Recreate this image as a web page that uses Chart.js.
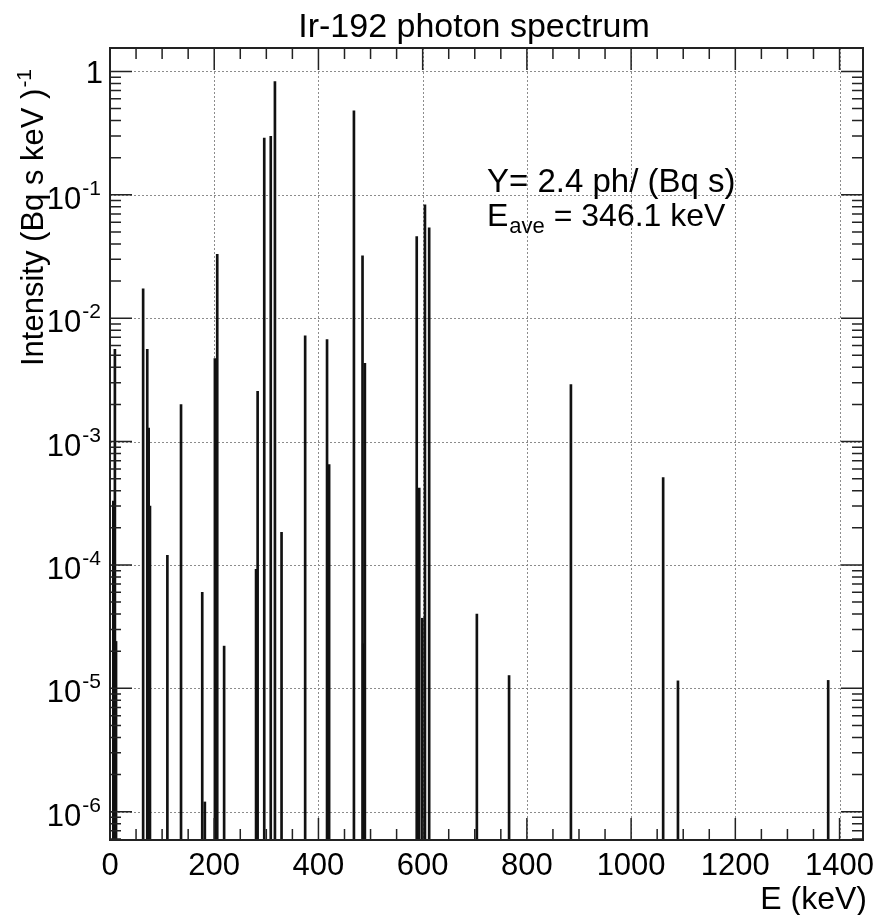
<!DOCTYPE html>
<html>
<head>
<meta charset="utf-8">
<title>Ir-192 photon spectrum</title>
<script src="https://cdn.jsdelivr.net/npm/chart.js@4.4.1/dist/chart.umd.min.js"></script>
<style>
  html, body { margin: 0; padding: 0; background: #fff; }
  canvas { display: block; }
</style>
</head>
<body>
<canvas id="spectrum" width="879" height="915"></canvas>
<script>
// --- DONNEES ---
const energies = [6.4, 9.4, 11.6, 63.6, 71.5, 74.2, 76.7, 110.1, 136.3, 177.0, 182.0, 201.3, 205.8, 219.0,
    280.3, 283.3, 296.0, 308.5, 316.5, 329.2, 374.5, 416.5, 420.5, 468.1, 484.6, 485.9, 489.1,
    588.6, 593.4, 599.4, 604.4, 612.5, 704.0, 765.8, 884.5, 1061.5, 1089.9, 1378.2];
const intensities = [3.3e-4, 5.6e-3, 2.4e-5, 0.0173, 5.6e-3, 1.29e-3, 3.0e-4, 1.2e-4, 2.0e-3, 6.0e-5, 1.2e-6, 4.7e-3, 0.033, 2.2e-5,
    9.2e-5, 2.56e-3, 0.289, 0.298, 0.83, 1.84e-4, 7.2e-3, 6.7e-3, 6.5e-4, 0.48, 0.032, 2.3e-5, 4.3e-3,
    0.046, 4.2e-4, 3.7e-5, 0.083, 0.054, 4.0e-5, 1.27e-5, 2.9e-3, 5.1e-4, 1.15e-5, 1.16e-5];
const xTicks = [0, 200, 400, 600, 800, 1000, 1200, 1400];
const yDecades = [0, -1, -2, -3, -4, -5, -6];

const chartTitle = "Ir-192 photon spectrum";
const xTitle = "E (keV)";
const yTitle = "Intensity (Bq s keV )";
const yTitleSup = "-1";
const yieldText = "Y= 2.4 ph/ (Bq s)";
const eaveText = " = 346.1 keV";

const FONT = '"Liberation Sans", Arial, Helvetica, sans-serif';
const X_MIN = 0, X_MAX = 1445, Y_MIN = 5.9e-7, Y_MAX = 1.55;

function font(px) { return px + 'px ' + FONT; }

// --- STYLE "ROOT" : grille, cadre, ticks, textes ---
const rootStyle = {
    id: 'rootStyle',
    beforeDatasetsDraw(chart) {
        const { ctx, chartArea: a, scales: { x, y } } = chart;
        ctx.save();
        ctx.strokeStyle = '#8c8c8c'; ctx.lineWidth = 1; ctx.setLineDash([2, 2]);
        ctx.beginPath();
        xTicks.forEach(v => {
            if (v <= X_MIN) return;
            const px = Math.round(x.getPixelForValue(v)) + 0.5;
            ctx.moveTo(px, a.top); ctx.lineTo(px, a.bottom);
        });
        yDecades.forEach(d => {
            const py = Math.round(y.getPixelForValue(Math.pow(10, d))) + 0.5;
            ctx.moveTo(a.left, py); ctx.lineTo(a.right, py);
        });
        ctx.stroke();
        ctx.restore();
    },
    afterDatasetsDraw(chart) {
        const { ctx, chartArea: a, scales: { x, y } } = chart;
        ctx.save();
        ctx.strokeStyle = '#222'; ctx.lineWidth = 1.5;
        ctx.beginPath();
        // ticks x (majeurs tous les 200, mineurs tous les 50)
        const step = (xTicks[1] - xTicks[0]) / 4;
        for (let v = X_MIN; v <= X_MAX; v += step) {
            const len = (v % (step * 4) === 0) ? 22 : 11;
            const px = x.getPixelForValue(v);
            ctx.moveTo(px, a.bottom); ctx.lineTo(px, a.bottom - len);
            ctx.moveTo(px, a.top); ctx.lineTo(px, a.top + len);
        }
        // ticks y (log)
        for (let d = -7; d <= 0; d++) {
            for (let k = 1; k <= 9; k++) {
                const v = k * Math.pow(10, d);
                if (v < Y_MIN || v > Y_MAX) continue;
                const len = (k === 1) ? 22 : 11;
                const py = y.getPixelForValue(v);
                ctx.moveTo(a.left, py); ctx.lineTo(a.left + len, py);
                ctx.moveTo(a.right, py); ctx.lineTo(a.right - len, py);
            }
        }
        ctx.stroke();
        // cadre
        ctx.lineWidth = 2;
        ctx.strokeRect(a.left, a.top, a.right - a.left, a.bottom - a.top);
        ctx.restore();
    },
    afterDraw(chart) {
        const { ctx, chartArea: a, scales: { x, y } } = chart;
        ctx.save();
        ctx.fillStyle = '#000';
        ctx.textBaseline = 'alphabetic';

        // labels axe x
        ctx.font = font(31); ctx.textAlign = 'center';
        xTicks.forEach(v => ctx.fillText(String(v), x.getPixelForValue(v), 875));

        // labels axe y : 1, 10^-1 ...
        yDecades.forEach(d => {
            const py = y.getPixelForValue(Math.pow(10, d));
            ctx.textAlign = 'right';
            if (d === 0) { ctx.font = font(31); ctx.fillText('1', 103, py + 12); return; }
            const sup = String(d);
            ctx.font = font(21);
            ctx.fillText(sup, 101, py);
            const w = ctx.measureText(sup).width;
            ctx.font = font(31);
            ctx.fillText('10', 101 - w - 1, py + 14);
        });

        // titre
        ctx.font = font(34); ctx.textAlign = 'center';
        ctx.fillText(chartTitle, 474, 37);

        // titre axe x
        ctx.font = font(32); ctx.textAlign = 'right';
        ctx.fillText(xTitle, a.right + 4, 909);

        // titre axe y (vertical)
        ctx.save();
        ctx.translate(43, 366); ctx.rotate(-Math.PI / 2);
        ctx.textAlign = 'left';
        ctx.font = font(31);
        ctx.fillText(yTitle, 0, 0);
        const wt = ctx.measureText(yTitle).width;
        ctx.font = font(21);
        ctx.fillText(yTitleSup, wt + 1, -12);
        ctx.restore();

        // annotation
        ctx.textAlign = 'left';
        ctx.font = font(33);
        ctx.fillText(yieldText, 487, 192);
        ctx.font = font(32);
        ctx.fillText('E', 487, 226);
        let cx = 487 + ctx.measureText('E').width + 1;
        ctx.font = font(22);
        ctx.fillText('ave', cx, 233);
        cx += ctx.measureText('ave').width;
        ctx.font = font(32);
        ctx.fillText(eaveText, cx, 226);

        ctx.restore();
    }
};

const ctx = document.getElementById('spectrum').getContext('2d');
const spectrumChart = new Chart(ctx, {
    type: 'bar',
    data: {
        datasets: [{
            data: energies.map((e, i) => ({ x: e, y: intensities[i] })),
            backgroundColor: '#111',
            borderWidth: 0,
            barThickness: 2
        }]
    },
    options: {
        responsive: false,
        animation: false,
        devicePixelRatio: 1,
        layout: { padding: { top: 48, right: 16, left: 0, bottom: 0 } },
        plugins: { legend: { display: false }, title: { display: false }, tooltip: { enabled: false } },
        scales: {
            x: {
                type: 'linear', min: X_MIN, max: X_MAX, offset: false,
                grid: { display: false }, border: { display: false }, ticks: { display: false },
                afterFit: (s) => { s.height = 75; }
            },
            y: {
                type: 'logarithmic', min: Y_MIN, max: Y_MAX,
                grid: { display: false }, border: { display: false }, ticks: { display: false },
                afterFit: (s) => { s.width = 110; }
            }
        }
    },
    plugins: [rootStyle]
});
</script>
</body>
</html>
